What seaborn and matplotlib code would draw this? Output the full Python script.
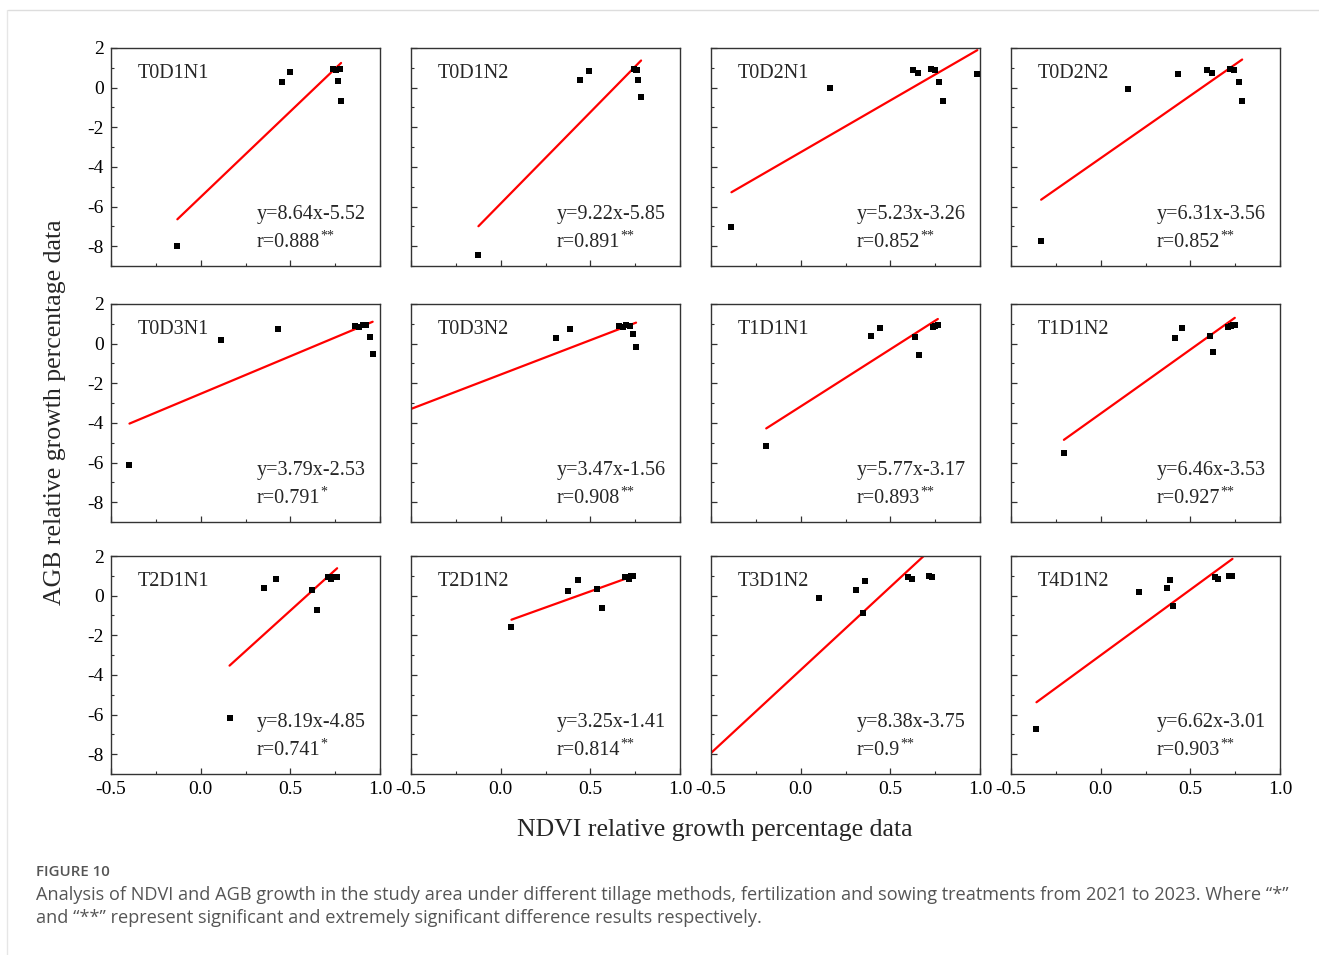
import numpy as np
import pandas as pd
import matplotlib
matplotlib.use("Agg")
import matplotlib.pyplot as plt
import seaborn as sns
from matplotlib.ticker import MultipleLocator, FuncFormatter
from matplotlib.lines import Line2D
from matplotlib.transforms import offset_copy

# ---------------- data ----------------
panels = ["T0D1N1", "T0D1N2", "T0D2N1", "T0D2N2",
          "T0D3N1", "T0D3N2", "T1D1N1", "T1D1N2",
          "T2D1N1", "T2D1N2", "T3D1N2", "T4D1N2"]
slopes = [8.64, 9.22, 5.23, 6.31, 3.79, 3.47, 5.77, 6.46, 8.19, 3.25, 8.38, 6.62]
intercepts = [-5.52, -5.85, -3.26, -3.56, -2.53, -1.56, -3.17, -3.53, -4.85, -1.41, -3.75, -3.01]
r_values = ["0.888", "0.891", "0.852", "0.852", "0.791", "0.908",
            "0.893", "0.927", "0.741", "0.814", "0.9", "0.903"]
signif = ["**", "**", "**", "**", "*", "**", "**", "**", "*", "**", "**", "**"]
# fitted line start (None = smallest NDVI value of the panel)
fit_start = [None, None, None, None, None, -0.5, None, None, None, None, -0.5, None]

ndvi_T0D1N1 = [-0.13, 0.451, 0.496, 0.737, 0.757, 0.776, 0.768, 0.783]
agb_T0D1N1 = [-8.0, 0.30, 0.79, 0.92, 0.91, 0.92, 0.34, -0.69]
ndvi_T0D1N2 = [-0.124, 0.445, 0.492, 0.742, 0.752, 0.761, 0.768, 0.783]
agb_T0D1N2 = [-8.47, 0.39, 0.82, 0.94, 0.89, 0.91, 0.37, -0.45]
ndvi_T0D2N1 = [-0.386, 0.163, 0.628, 0.656, 0.724, 0.750, 0.774, 0.791, 0.985]
agb_T0D2N1 = [-7.01, -0.02, 0.89, 0.76, 0.94, 0.89, 0.30, -0.66, 0.67]
ndvi_T0D2N2 = [-0.332, 0.152, 0.430, 0.591, 0.621, 0.720, 0.744, 0.772, 0.789]
agb_T0D2N2 = [-7.75, -0.08, 0.67, 0.87, 0.76, 0.92, 0.91, 0.30, -0.67]
ndvi_T0D3N1 = [-0.397, 0.116, 0.430, 0.860, 0.882, 0.903, 0.922, 0.942, 0.959]
agb_T0D3N1 = [-6.13, 0.18, 0.74, 0.89, 0.82, 0.96, 0.92, 0.32, -0.54]
ndvi_T0D3N2 = [0.311, 0.386, 0.662, 0.683, 0.699, 0.720, 0.740, 0.755]
agb_T0D3N2 = [0.29, 0.74, 0.91, 0.84, 0.94, 0.87, 0.47, -0.15]
ndvi_T1D1N1 = [-0.192, 0.391, 0.440, 0.640, 0.658, 0.740, 0.750, 0.765]
agb_T1D1N1 = [-5.16, 0.39, 0.81, 0.32, -0.59, 0.82, 0.91, 0.92]
ndvi_T1D1N2 = [-0.205, 0.412, 0.453, 0.608, 0.626, 0.712, 0.724, 0.737, 0.748]
agb_T1D1N2 = [-5.53, 0.27, 0.79, 0.37, -0.40, 0.86, 0.91, 0.92, 0.92]
ndvi_T2D1N1 = [0.161, 0.352, 0.419, 0.623, 0.651, 0.709, 0.727, 0.742, 0.761]
agb_T2D1N1 = [-6.15, 0.37, 0.84, 0.30, -0.72, 0.94, 0.84, 0.92, 0.94]
ndvi_T2D1N2 = [0.060, 0.374, 0.432, 0.539, 0.567, 0.692, 0.714, 0.724, 0.739]
agb_T2D1N2 = [-1.58, 0.25, 0.81, 0.35, -0.62, 0.94, 0.84, 0.97, 0.97]
ndvi_T3D1N2 = [0.103, 0.309, 0.361, 0.348, 0.598, 0.623, 0.716, 0.735]
agb_T3D1N2 = [-0.12, 0.30, 0.74, -0.87, 0.94, 0.82, 0.99, 0.96]
ndvi_T4D1N2 = [-0.358, 0.212, 0.372, 0.389, 0.402, 0.636, 0.655, 0.716, 0.735]
agb_T4D1N2 = [-6.74, 0.20, 0.40, 0.79, -0.50, 0.94, 0.86, 0.99, 0.97]

ndvi_all = [ndvi_T0D1N1, ndvi_T0D1N2, ndvi_T0D2N1, ndvi_T0D2N2, ndvi_T0D3N1, ndvi_T0D3N2,
            ndvi_T1D1N1, ndvi_T1D1N2, ndvi_T2D1N1, ndvi_T2D1N2, ndvi_T3D1N2, ndvi_T4D1N2]
agb_all = [agb_T0D1N1, agb_T0D1N2, agb_T0D2N1, agb_T0D2N2, agb_T0D3N1, agb_T0D3N2,
           agb_T1D1N1, agb_T1D1N2, agb_T2D1N1, agb_T2D1N2, agb_T3D1N2, agb_T4D1N2]

x_ticks = [-0.5, 0.0, 0.5, 1.0]
y_ticks = [2, 0, -2, -4, -6, -8]

# ---------------- style ----------------
sns.set_theme(style="white")
plt.rcParams["font.family"] = ["Liberation Serif", "DejaVu Serif"]
plt.rcParams["axes.unicode_minus"] = False

W, H = 1319, 955
fig = plt.figure(figsize=(W / 100, H / 100), dpi=100)
fig.patch.set_facecolor("white")
renderer = fig.canvas.get_renderer()

col_left = [111, 411, 711, 1011]
ax_w = 269
row_top = [48, 304, 556]
ax_h = 218

for i, name in enumerate(panels):
    r, c = divmod(i, 4)
    left = col_left[c] / W
    bottom = 1 - (row_top[r] + ax_h) / H
    ax = fig.add_axes([left, bottom, ax_w / W, ax_h / H])

    df = pd.DataFrame({"NDVI": ndvi_all[i], "AGB": agb_all[i]})
    x0 = fit_start[i] if fit_start[i] is not None else df["NDVI"].min()
    x1 = df["NDVI"].max()
    line_df = pd.DataFrame({"NDVI": [x0, x1]})
    line_df["AGB"] = slopes[i] * line_df["NDVI"] + intercepts[i]

    sns.lineplot(data=line_df, x="NDVI", y="AGB", color="#ff0000", linewidth=1.6,
                 ax=ax, zorder=2)
    sns.scatterplot(data=df, x="NDVI", y="AGB", marker="s", s=20, color="black",
                    edgecolor="black", linewidth=0, ax=ax, zorder=3)

    ax.set_xlim(-0.5, 1.0)
    ax.set_ylim(-9, 2)
    ax.set_xlabel("")
    ax.set_ylabel("")
    ax.set_xticks(x_ticks)
    ax.set_yticks(y_ticks)
    ax.xaxis.set_minor_locator(MultipleLocator(0.25))
    ax.yaxis.set_minor_locator(MultipleLocator(1))
    ax.xaxis.set_major_formatter(FuncFormatter(lambda v, _: f"{v:.1f}"))
    ax.yaxis.set_major_formatter(FuncFormatter(lambda v, _: f"{v:g}"))
    ax.tick_params(axis="both", which="both", direction="in", top=False, right=False,
                   color="#333333", labelsize=14, labelcolor="black")
    ax.tick_params(axis="both", which="major", length=4, width=0.9, pad=5)
    ax.tick_params(axis="both", which="minor", length=2.5, width=0.8)
    ax.tick_params(axis="x", which="both", bottom=True)
    ax.tick_params(axis="y", which="both", left=True)
    if r < 2:
        ax.tick_params(axis="x", labelbottom=False)
    if c > 0:
        ax.tick_params(axis="y", labelleft=False)
    for sp in ax.spines.values():
        sp.set_color("#333333")
        sp.set_linewidth(1.0)

    ax.text(0.10, 0.882, name, transform=ax.transAxes, ha="left", va="center",
            fontsize=14.5)
    ax.text(0.54, 0.236, f"y={slopes[i]:.2f}x{intercepts[i]:.2f}", transform=ax.transAxes,
            ha="left", va="center", fontsize=14.5)
    rt = ax.text(0.54, 0.107, f"r={r_values[i]}", transform=ax.transAxes,
                 ha="left", va="center", fontsize=14.5)
    bb = rt.get_window_extent(renderer=renderer)
    fig.text((bb.x1 + 0.5) / W, (bb.y1 - 3) / H, signif[i], ha="left", va="center",
             fontsize=10)

fig.text(55 / W, 1 - 412 / H, "AGB relative growth percentage data", rotation=90,
         ha="center", va="center", fontsize=18.5)
fig.text(715 / W, 1 - 830 / H, "NDVI relative growth percentage data",
         ha="center", va="center", fontsize=18.5)

# caption
cap_font = ["Open Sans", "DejaVu Sans"]
fig.text(36 / W, 1 - 872 / H, "FIGURE 10", ha="left", va="center", fontsize=10.8,
         color="#555555", family=cap_font, fontweight="semibold")
fig.text(36 / W, 1 - 895 / H,
         "Analysis of NDVI and AGB growth in the study area under different tillage methods, "
         "fertilization and sowing treatments from 2021 to 2023. Where \u201c*\u201d",
         ha="left", va="center", fontsize=13.1, color="#555555", family=cap_font)
fig.text(36 / W, 1 - 918 / H,
         "and \u201c**\u201d represent significant and extremely significant difference results respectively.",
         ha="left", va="center", fontsize=13.1, color="#555555", family=cap_font)

# page frame lines
fig.add_artist(Line2D([8 / W, 1.0], [1 - 10 / H, 1 - 10 / H], color="#dddddd", linewidth=1.0))
fig.add_artist(Line2D([7 / W, 7 / W], [0, 1 - 10 / H], color="#e6e6e6", linewidth=1.0))

fig.savefig("out.png", dpi=100, facecolor="white")
